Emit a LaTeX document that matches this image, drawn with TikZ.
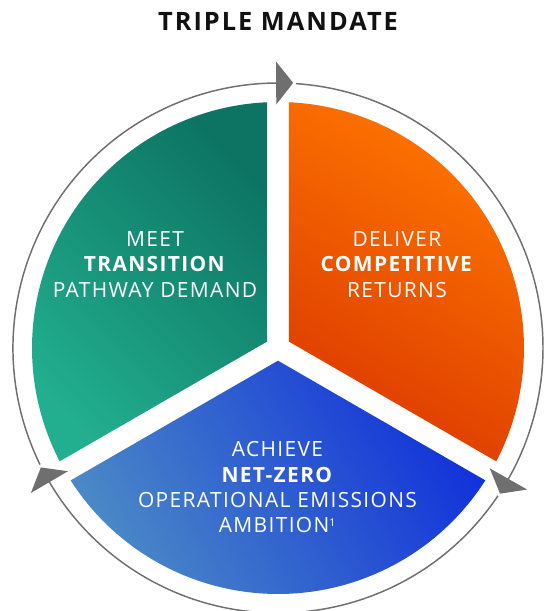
\documentclass[tikz,border=0pt]{standalone}
\usepackage{fontspec}
\setmainfont{Open Sans}[LetterSpace=6.5]

\definecolor{tealdark}{HTML}{0D7463}
\definecolor{teallight}{HTML}{22AF8F}
\definecolor{orangelight}{HTML}{FF7700}
\definecolor{orangedark}{HTML}{DC3A00}
\definecolor{bluedark}{HTML}{1232DA}
\definecolor{bluelight}{HTML}{4A88C6}
\definecolor{ringgray}{HTML}{6F6F6F}
\definecolor{titleblack}{HTML}{111111}

\begin{document}
\begin{tikzpicture}[x=0.75pt,y=0.75pt,
    sectorlabel/.style={text=white, align=center, font=\fontsize{15.7}{19}\selectfont},
    ring/.style={draw=ringgray, line width=1.1pt},
    ringtip/.style={fill=ringgray}]
    \useasboundingbox (-278,-263) rectangle (267,348);

    % Title
    \node[text=titleblack, font=\fontsize{19}{21}\selectfont\bfseries\addfontfeatures{LetterSpace=8}] (title) at (0,326.5) {TRIPLE MANDATE};

    % Three sectors with white gaps between them
    \shade[top color=tealdark, bottom color=teallight, shading angle=-45]
        (150:12.7) -- (92.56:246) arc[start angle=92.56, end angle=207.44, radius=246] -- cycle;
    \shade[top color=orangelight, bottom color=orangedark, shading angle=-30]
        (30:12.7) -- (-27.44:246) arc[start angle=-27.44, end angle=87.44, radius=246] -- cycle;
    \shade[top color=bluedark, bottom color=bluelight, shading angle=-60]
        (270:12.7) -- (212.56:246) arc[start angle=212.56, end angle=327.44, radius=246] -- cycle;

    % Sector labels
    \node[sectorlabel] (meet) at (-123,83.5) {MEET\\\textbf{TRANSITION}\\PATHWAY DEMAND};
    \node[sectorlabel] (deliver) at (119,83.5) {DELIVER\\\textbf{COMPETITIVE}\\RETURNS};
    \node[sectorlabel] (achieve) at (-0.5,-139.5) {ACHIEVE\\\textbf{NET-ZERO}\\OPERATIONAL EMISSIONS\\AMBITION\textsuperscript{\fontsize{8}{8}\selectfont 1}};

    % Outer ring, broken at each arrow head
    \foreach \a in {90.4,210.4,330.4} {
        \draw[ring] (\a-4.3:265) arc[start angle=\a-4.3, end angle=\a-120, radius=265];
        \fill[ringtip, rotate=\a-90] (0,243.5) -- (0,286.5) -- (17,265) -- cycle;
    }
\end{tikzpicture}
\end{document}
